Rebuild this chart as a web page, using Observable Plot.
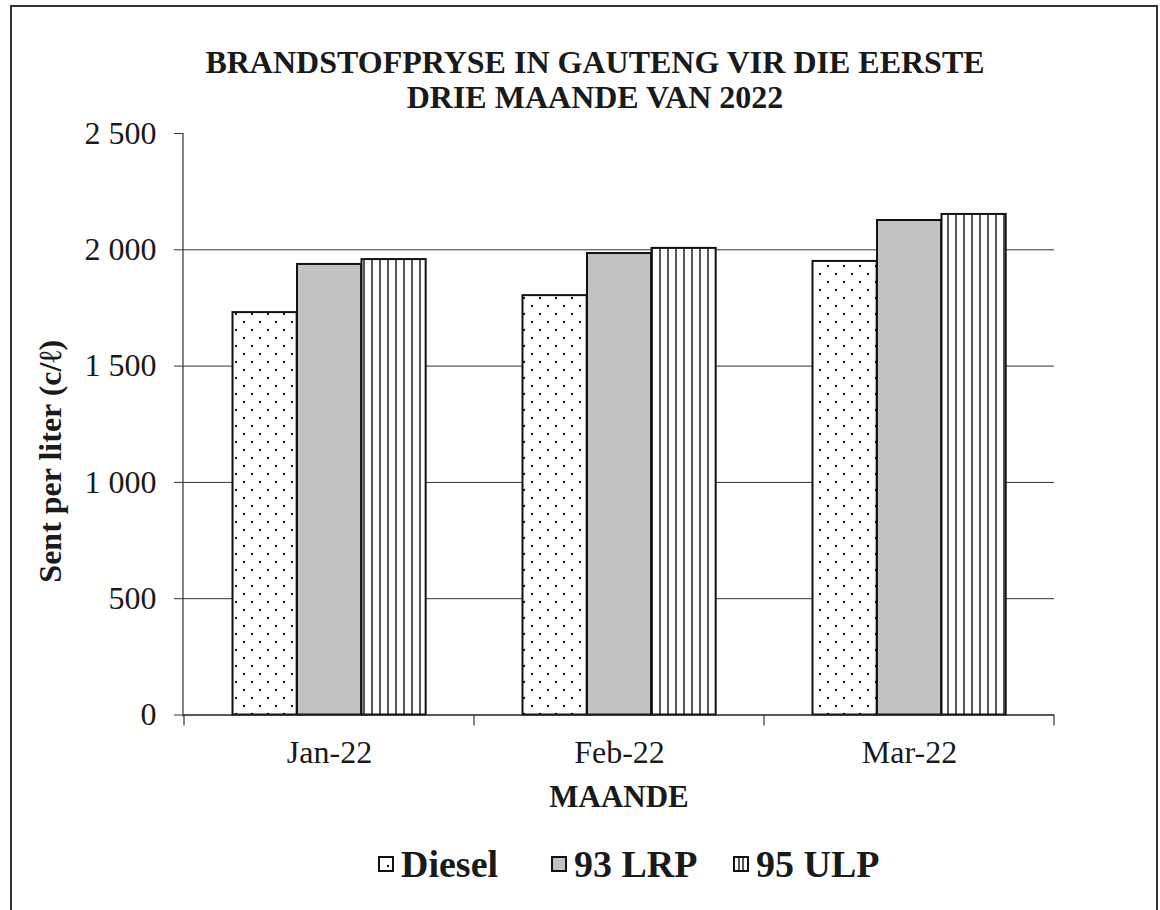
<!DOCTYPE html>
<html>
<head>
<meta charset="utf-8">
<script src="https://cdn.jsdelivr.net/npm/d3@7"></script>
<script src="https://cdn.jsdelivr.net/npm/@observablehq/plot@0.6"></script>
<style>
  html, body { margin: 0; padding: 0; background: #fff; overflow: hidden; width: 1160px; height: 910px; }
  body { position: relative; font-family: "Liberation Serif", "Times New Roman", serif; color: #1a1a1a; }
  #border { position: absolute; left: 10px; top: 5px; width: 1148px; height: 930px; border: 2px solid #333; box-sizing: border-box; }
  #title { position: absolute; left: 15px; width: 1160px; top: 45px; text-align: center; font-weight: bold; font-size: 32px; line-height: 35px; }
  #chart { position: absolute; left: 0; top: 110px; }
  .leg { position: absolute; top: 842px; display: flex; align-items: center; gap: 7px; font-weight: bold; font-size: 38px; line-height: 44px; }
  .leg svg { display: block; }
</style>
</head>
<body>
<div id="border"></div>
<div id="title">BRANDSTOFPRYSE IN GAUTENG VIR DIE EERSTE<br>DRIE MAANDE VAN 2022</div>
<div id="chart"></div>
<div id="legend"></div>
<script>
// ---- data ----
const months = ["Jan-22", "Feb-22", "Mar-22"];
const fuels = ["Diesel", "93 LRP", "95 ULP"];
const diesel = [1730, 1803, 1950];
const lrp93 = [1937, 1984, 2126];
const ulp95 = [1958, 2006, 2152];
const yTicks = [0, 500, 1000, 1500, 2000, 2500];
const gridValues = [500, 1000, 1500, 2000];
const yTitle = "Sent per liter (c/ℓ)";
const xTitle = "MAANDE";

const series = [diesel, lrp93, ulp95];
const data = months.flatMap((m, i) => fuels.map((f, j) => ({month: m, fuel: f, value: series[j][i]})));

// ---- layout constants ----
const W = 1160, H = 720;
const mL = 183, mR = 106, mT = 23, mB = 115.5;
const band = (W - mL - mR) / months.length;
const groupPad = 48.5, barW = 64.5;
const patternIds = ["pat-dots", "pat-gray", "pat-vlines"];

const fmt = d3.formatLocale({thousands: " ", grouping: [3], decimal: ","}).format(",");

function axisLines(index, scales, values, dimensions) {
  const g = d3.create("svg:g");
  const y = scales.y, x = scales.x;
  const left = dimensions.marginLeft;
  const y0 = y(0);
  g.append("line").attr("x1", left).attr("x2", left).attr("y1", y(2500)).attr("y2", y0 + 2)
    .attr("stroke", "#333").attr("stroke-width", 1.2);
  const bw = x.bandwidth ? x.bandwidth() : band;
  const bounds = months.map(m => x(m)).concat([x(months[months.length - 1]) + bw]);
  for (const b of bounds) {
    g.append("line").attr("x1", b).attr("x2", b).attr("y1", y0).attr("y2", y0 + 11)
      .attr("stroke", "#333").attr("stroke-width", 1.2);
  }
  return g.node();
}

const chart = Plot.plot({
  width: W, height: H,
  marginLeft: mL, marginRight: mR, marginTop: mT, marginBottom: mB,
  style: {fontFamily: "'Liberation Serif', 'Times New Roman', serif", fontSize: "32px", color: "#1a1a1a", background: "transparent"},
  x: {domain: months, padding: 0, label: null},
  y: {domain: [0, 2500], label: null},
  color: {domain: fuels, range: patternIds.map(id => `url(#${id})`)},
  marks: [
    Plot.ruleY(gridValues, {stroke: "#333", strokeWidth: 1}),
    ...fuels.map((f, j) => Plot.barY(data.filter(d => d.fuel === f), {
      x: "month", y: "value", fill: "fuel", stroke: "#111", strokeWidth: 2,
      insetLeft: groupPad + j * barW,
      insetRight: band - groupPad - (j + 1) * barW
    })),
    Plot.ruleY([0], {stroke: "#222", strokeWidth: 1.6}),
    axisLines,
    Plot.axisY({ticks: yTicks, tickSize: 9, tickPadding: 18, tickFormat: fmt, fontSize: 32, stroke: "#333", label: null}),
    Plot.axisX({tickSize: 0, tickPadding: 25, fontSize: 32, label: null}),
    Plot.text([yTitle], {text: d => d, frameAnchor: "left", rotate: -90, dx: -133, dy: 37, fontWeight: "bold", fontSize: 32, textAnchor: "middle", lineAnchor: "middle", fill: "#1a1a1a"}),
    Plot.text([xTitle], {text: d => d, frameAnchor: "bottom", dy: 82.5, fontWeight: "bold", fontSize: 31, textAnchor: "middle", lineAnchor: "middle", fill: "#1a1a1a"})
  ]
});

function patternDefs(svgNs) {
  const defs = document.createElementNS(svgNs, "defs");
  defs.innerHTML = `
    <pattern id="pat-dots" patternUnits="userSpaceOnUse" width="16" height="16">
      <rect width="16" height="16" fill="#fff"/>
      <circle cx="4" cy="4" r="1.15" fill="#111"/>
      <circle cx="12" cy="12" r="1.15" fill="#111"/>
    </pattern>
    <pattern id="pat-gray" patternUnits="userSpaceOnUse" width="8" height="8">
      <rect width="8" height="8" fill="#c2c2c2"/>
    </pattern>
    <pattern id="pat-vlines" patternUnits="userSpaceOnUse" width="8" height="8">
      <rect width="8" height="8" fill="#fff"/>
      <line x1="4" x2="4" y1="0" y2="8" stroke="#111" stroke-width="1.4"/>
    </pattern>`;
  return defs;
}
const NS = "http://www.w3.org/2000/svg";
chart.insertBefore(patternDefs(NS), chart.firstChild);
document.getElementById("chart").appendChild(chart);

// ---- legend ----
const legendLeft = [378, 551, 733];
const legendSwatch = [
  `<rect x="1" y="1" width="14" height="14" fill="#fff" stroke="#111" stroke-width="2"/><circle cx="10" cy="10" r="1.2" fill="#111"/>`,
  `<rect x="1" y="1" width="14" height="14" fill="#c2c2c2" stroke="#111" stroke-width="2"/>`,
  `<rect x="1" y="1" width="14" height="14" fill="#fff" stroke="#111" stroke-width="2"/><line x1="6" x2="6" y1="1" y2="15" stroke="#111" stroke-width="1.4"/><line x1="10" x2="10" y1="1" y2="15" stroke="#111" stroke-width="1.4"/>`
];
const legend = document.getElementById("legend");
fuels.forEach((f, j) => {
  const item = document.createElement("div");
  item.className = "leg";
  item.style.left = legendLeft[j] + "px";
  item.innerHTML = `<svg width="16" height="16" viewBox="0 0 16 16">${legendSwatch[j]}</svg><span>${f}</span>`;
  legend.appendChild(item);
});
</script>
</body>
</html>
